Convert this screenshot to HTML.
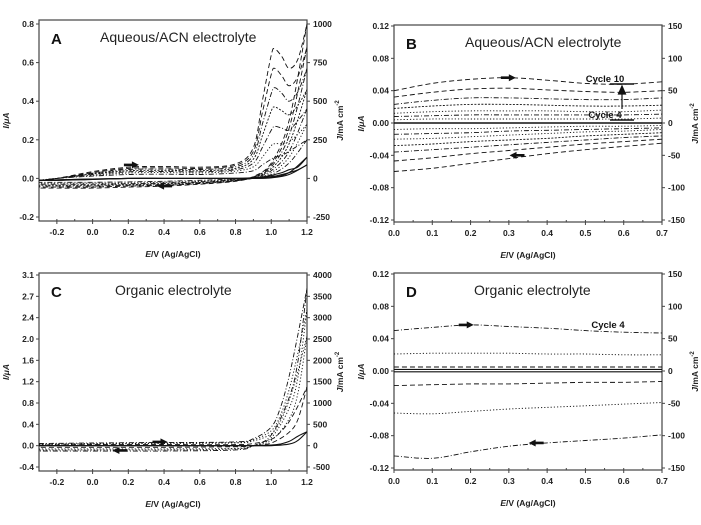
<!DOCTYPE html>
<html><head><meta charset="utf-8">
<style>
body{margin:0;background:#fff;}
svg{display:block;font-family:"Liberation Sans",Arial,sans-serif;}
.tk{font-size:8.5px;font-weight:bold;fill:#222;}
.ttl{font-size:14px;fill:#222;}
.pl{font-size:15px;font-weight:bold;fill:#111;}
</style></head>
<body>
<svg id="fig" width="701" height="525" viewBox="0 0 701 525"></svg>
<script>
// ---------- Panel A data ----------
const xA_f = [-0.3,-0.2,0,0.2,0.4,0.6,0.8,0.9,0.95,1.0,1.02,1.06,1.1,1.15,1.2];
const A_fwd = [
 [-0.01,0.0,0.035,0.058,0.062,0.058,0.075,0.16,0.40,0.64,0.67,0.63,0.57,0.62,0.80],
 [-0.01,0.0,0.03,0.052,0.055,0.052,0.068,0.14,0.34,0.54,0.57,0.53,0.48,0.53,0.68],
 [-0.01,0.0,0.027,0.046,0.048,0.046,0.060,0.12,0.28,0.44,0.47,0.44,0.40,0.45,0.57],
 [-0.01,0.0,0.024,0.04,0.042,0.04,0.052,0.10,0.22,0.35,0.37,0.35,0.33,0.38,0.46],
 [-0.01,0.0,0.02,0.034,0.036,0.034,0.045,0.08,0.16,0.25,0.27,0.26,0.25,0.30,0.36],
 [-0.01,0.0,0.016,0.028,0.03,0.028,0.038,0.06,0.11,0.17,0.18,0.18,0.19,0.23,0.28],
 [-0.01,0.0,0.012,0.02,0.022,0.02,0.028,0.04,0.07,0.10,0.11,0.12,0.14,0.17,0.20]
];
const A_solid = [
 [-0.01,-0.01,-0.005,0,0,0,0,0.004,0.008,0.015,0.02,0.03,0.045,0.06,0.11],
 [-0.01,-0.01,-0.005,0,0,0,0,0.002,0.005,0.01,0.012,0.02,0.03,0.045,0.07]
];
const xA_r = [1.2,1.1,1.0,0.9,0.8,0.6,0.4,0.2,0,-0.2,-0.3];
const A_rev = [
 [0.80,0.30,0.08,0.01,-0.015,-0.03,-0.04,-0.045,-0.05,-0.05,-0.05],
 [0.68,0.26,0.07,0.008,-0.013,-0.027,-0.036,-0.04,-0.045,-0.045,-0.045],
 [0.57,0.22,0.06,0.006,-0.011,-0.024,-0.032,-0.036,-0.04,-0.04,-0.04],
 [0.46,0.18,0.05,0.004,-0.009,-0.021,-0.028,-0.032,-0.035,-0.035,-0.035],
 [0.36,0.14,0.04,0.002,-0.007,-0.018,-0.024,-0.028,-0.03,-0.03,-0.03],
 [0.28,0.11,0.03,0.0,-0.005,-0.015,-0.02,-0.024,-0.025,-0.025,-0.025],
 [0.20,0.08,0.02,0.0,-0.003,-0.01,-0.015,-0.018,-0.02,-0.02,-0.02]
];
const A_solidRev = [
 [0.11,0.03,0.005,0,0,0,0,0,-0.003,-0.008,-0.01],
 [0.07,0.02,0.003,0,0,0,0,0,-0.003,-0.008,-0.01]
];
const A_xticks = [-0.2,0.0,0.2,0.4,0.6,0.8,1.0,1.2];
const A_yticks = [-0.2,0.0,0.2,0.4,0.6,0.8];
const A_rticks = [-250,0,250,500,750,1000];

// ---------- Panel B data ----------
const xB = [0,0.1,0.2,0.3,0.4,0.5,0.6,0.7];
const B_fwd = [
 [0.040,0.049,0.054,0.056,0.053,0.049,0.048,0.051],
 [0.032,0.038,0.042,0.043,0.041,0.039,0.038,0.040],
 [0.023,0.028,0.031,0.031,0.030,0.029,0.029,0.031],
 [0.018,0.021,0.023,0.023,0.022,0.021,0.021,0.022],
 [0.012,0.014,0.015,0.015,0.015,0.014,0.014,0.016],
 [0.008,0.009,0.010,0.010,0.010,0.010,0.010,0.011],
 [0.004,0.005,0.005,0.005,0.005,0.005,0.005,0.006]
];
const B_rev = [
 [-0.060,-0.056,-0.050,-0.044,-0.038,-0.033,-0.029,-0.025],
 [-0.047,-0.043,-0.038,-0.034,-0.030,-0.026,-0.023,-0.020],
 [-0.036,-0.033,-0.030,-0.027,-0.024,-0.021,-0.018,-0.016],
 [-0.028,-0.026,-0.023,-0.021,-0.019,-0.016,-0.014,-0.012],
 [-0.020,-0.019,-0.017,-0.015,-0.013,-0.011,-0.010,-0.008],
 [-0.014,-0.013,-0.012,-0.010,-0.009,-0.008,-0.007,-0.006],
 [-0.008,-0.007,-0.007,-0.006,-0.005,-0.004,-0.004,-0.003]
];
const B_xticks = [0.0,0.1,0.2,0.3,0.4,0.5,0.6,0.7];
const B_yticks = [-0.12,-0.08,-0.04,0.00,0.04,0.08,0.12];
const B_rticks = [-150,-100,-50,0,50,100,150];

// ---------- Panel C data ----------
const xC_f = [-0.3,0,0.4,0.8,0.9,1.0,1.05,1.1,1.15,1.2];
const C_fwd = [
 [0.04,0.05,0.06,0.07,0.13,0.35,0.70,1.30,2.10,2.95],
 [0.03,0.04,0.05,0.06,0.11,0.28,0.56,1.05,1.75,2.55],
 [0.02,0.03,0.04,0.05,0.09,0.22,0.45,0.85,1.40,2.05],
 [0.01,0.02,0.02,0.02,0.04,0.12,0.25,0.45,0.75,1.10],
 [0,0,0,0,0,0.01,0.03,0.08,0.18,0.26]
];
const xC_r = [1.2,1.15,1.1,1.0,0.9,0.8,0.4,0,-0.3];
const C_rev = [
 [2.95,1.60,0.90,0.20,0.00,-0.08,-0.10,-0.10,-0.10],
 [2.55,1.30,0.70,0.15,0.00,-0.06,-0.08,-0.08,-0.08],
 [2.05,1.00,0.50,0.10,0.00,-0.05,-0.06,-0.06,-0.06],
 [1.10,0.50,0.25,0.05,0.00,-0.02,-0.03,-0.03,-0.03],
 [0.26,0.10,0.03,0.00,0.00,0.00,0.00,0.00,0.00]
];
const C_xticks = [-0.2,0.0,0.2,0.4,0.6,0.8,1.0,1.2];
const C_yticks = ["-0.4","0.0","0.4","0.8","1.2","1.6","2.0","2.4","2.7","3.1"];
const C_rticks = [-500,0,500,1000,1500,2000,2500,3000,3500,4000];

// ---------- Panel D data ----------
const xD = [0,0.1,0.2,0.3,0.4,0.5,0.6,0.7];
const D_series = [
 [0.050,0.054,0.057,0.055,0.053,0.050,0.048,0.047],
 [0.021,0.022,0.022,0.022,0.021,0.021,0.020,0.020],
 [0.005,0.005,0.005,0.005,0.005,0.005,0.005,0.005],
 [0.002,0.002,0.002,0.002,0.002,0.002,0.002,0.002],
 [-0.001,-0.001,-0.001,-0.001,-0.001,-0.001,-0.001,-0.001],
 [-0.018,-0.017,-0.016,-0.016,-0.015,-0.014,-0.014,-0.013],
 [-0.052,-0.053,-0.050,-0.047,-0.045,-0.043,-0.041,-0.039],
 [-0.105,-0.108,-0.100,-0.093,-0.089,-0.086,-0.083,-0.079]
];
const D_styles = ["dashdot","dot","dash","solid","solid","dash","dot","dashdot"];
const D_xticks = B_xticks, D_yticks = B_yticks, D_rticks = B_rticks;

const NS="http://www.w3.org/2000/svg";
const svg=document.getElementById('fig');
function mk(tag,attrs,parent){const e=document.createElementNS(NS,tag);for(const k in attrs)e.setAttribute(k,attrs[k]);(parent||svg).appendChild(e);return e;}
const dashes={dash:"5,3",dot:"1.2,2",dashdot:"5,2,1,2",solid:"none",fine:"2,1.5"};

function smoothPath(pts){
  let d="M"+pts[0][0].toFixed(1)+","+pts[0][1].toFixed(1);
  for(let i=0;i<pts.length-1;i++){
    const p0=pts[i-1]||pts[i],p1=pts[i],p2=pts[i+1],p3=pts[i+2]||p2;
    const c1=[p1[0]+(p2[0]-p0[0])/6,p1[1]+(p2[1]-p0[1])/6];
    const c2=[p2[0]-(p3[0]-p1[0])/6,p2[1]-(p3[1]-p1[1])/6];
    d+="C"+c1[0].toFixed(1)+","+c1[1].toFixed(1)+" "+c2[0].toFixed(1)+","+c2[1].toFixed(1)+" "+p2[0].toFixed(1)+","+p2[1].toFixed(1);
  }
  return d;
}

function panel(cfg){
  const g=mk('g',{});
  
  
  const {x0,x1,y0,y1}=cfg;
  const yb=cfg.ybotPix, yt=cfg.ytopPix;
  const sx=v=>x0+(v-cfg.xmin)/(cfg.xmax-cfg.xmin)*(x1-x0);
  const sy=v=>yb-(v-cfg.ymin)/(cfg.ymax-cfg.ymin)*(yb-yt);
  cfg.sx=sx;cfg.sy=sy;
  const fr=mk('rect',{x:x0,y:y0,width:x1-x0,height:y1-y0,fill:'none',stroke:'#444','stroke-width':1.2},g);
  
  
  cfg.xticks.forEach(v=>{
    const X=sx(v);
    mk('line',{x1:X,x2:X,y1:y1,y2:y1+3,stroke:'#444'},g);
    const t=mk('text',{x:X,y:y1+14,'text-anchor':'middle',class:'tk'},g);
    
    
    t.textContent=cfg.xfmt(v);
  });
  const step=cfg.xticks[1]-cfg.xticks[0];
  for(let v=cfg.xmin+step/2;v<cfg.xmax;v+=step/2){const X=sx(v);mk('line',{x1:X,x2:X,y1:y1,y2:y1-2,stroke:'#444'},g);}
  const nL=cfg.yticks.length;
  cfg.yticks.forEach((v,i)=>{
    const Y=cfg.ylabelIdx? yb-i/(nL-1)*(yb-yt) : sy(v);
    mk('line',{x1:x0,x2:x0-3,y1:Y,y2:Y,stroke:'#444'},g);
    const t=mk('text',{x:x0-5,y:Y+3,'text-anchor':'end',class:'tk'},g);
    
    
    t.textContent=cfg.ylabelIdx? v : cfg.yfmt(v);
  });
  cfg.rticks.forEach((v,i)=>{
    const Y=yb-(v-cfg.rticks[0])/(cfg.rticks[cfg.rticks.length-1]-cfg.rticks[0])*(yb-yt);
    mk('line',{x1:x1,x2:x1+3,y1:Y,y2:Y,stroke:'#444'},g);
    const t=mk('text',{x:x1+6,y:Y+3,'text-anchor':'start',class:'tk'},g);
    
    
    t.textContent=v;
  });
  const yl=mk('text',{x:0,y:0,transform:`translate(${x0-30},${(y0+y1)/2}) rotate(-90)`,'text-anchor':'middle',class:'tk','font-style':'italic'},g);
  
  
  yl.textContent='I/μA';
  const yr=mk('text',{x:0,y:0,transform:`translate(${x1+36},${(y0+y1)/2}) rotate(-90)`,'text-anchor':'middle',class:'tk'},g);
  
  
  yr.innerHTML='<tspan font-style="italic">J</tspan>/mA cm<tspan dy="-4" font-size="6">-2</tspan>';
  const xl=mk('text',{x:(x0+x1)/2,y:y1+36,'text-anchor':'middle',class:'tk'},g);
  
  
  xl.innerHTML='<tspan font-style="italic">E</tspan>/V (Ag/AgCl)';
  const pl=mk('text',{x:x0+12,y:y0+24,class:'pl'},g);
  
  
  pl.textContent=cfg.id;
  const tt=mk('text',{x:cfg.titleX,y:y0+22,class:'ttl'},g);
  
  
  tt.textContent=cfg.title;
  const cp=mk('clipPath',{id:'clip'+cfg.id},g);
  mk('rect',{x:x0,y:y0,width:x1-x0,height:y1-y0},cp);
  cfg.g=mk('g',{'clip-path':`url(#clip${cfg.id})`},g);
  return cfg;
}
function curve(cfg,xs,ys,style,name,w){
  const pts=xs.map((x,i)=>[cfg.sx(x),cfg.sy(ys[i])]);
  const p=mk('path',{d:smoothPath(pts),fill:'none',stroke:'#111','stroke-width':w||0.9,'stroke-dasharray':dashes[style]},cfg.g);
  
  
}
function arrow(cfg,x,y,dir,name){
  const X=cfg.sx(x),Y=cfg.sy(y);
  const d=dir>0?`M${X-8},${Y-1.3}L${X},${Y-1.3}L${X},${Y-3.5}L${X+7},${Y}L${X},${Y+3.5}L${X},${Y+1.3}L${X-8},${Y+1.3}Z`
               :`M${X+8},${Y-1.3}L${X},${Y-1.3}L${X},${Y-3.5}L${X-7},${Y}L${X},${Y+3.5}L${X},${Y+1.3}L${X+8},${Y+1.3}Z`;
  const a=mk('path',{d:d,fill:'#111'},cfg.g);
  
  
}
const f1=v=>v.toFixed(1), f2=v=>v.toFixed(2);
const stylesA=["dash","dash","dashdot","fine","dashdot","dot","dashdot"];

// Panel A
const pA=panel({id:'A',x0:39,x1:307,y0:20,y1:221,ytopPix:24,ybotPix:217,xmin:-0.3,xmax:1.2,ymin:-0.2,ymax:0.8,
  xticks:A_xticks,yticks:A_yticks,rticks:A_rticks,xfmt:f1,yfmt:f1,title:'Aqueous/ACN electrolyte',titleX:100});
A_fwd.forEach((s,i)=>curve(pA,xA_f,s,stylesA[i],'a-forward-cycle-'+(i+1)));
A_rev.forEach((s,i)=>curve(pA,xA_r,s,stylesA[i],'a-reverse-cycle-'+(i+1)));
A_solid.forEach((s,i)=>curve(pA,xA_f,s,'solid','a-forward-solid-'+(i+1),1.1));
A_solidRev.forEach((s,i)=>curve(pA,xA_r,s,'solid','a-reverse-solid-'+(i+1),1.1));
arrow(pA,0.22,0.07,1,'a-forward-arrow');
arrow(pA,0.4,-0.04,-1,'a-reverse-arrow');

// Panel B
const pB=panel({id:'B',x0:394,x1:662,y0:25,y1:222,ytopPix:26,ybotPix:220,xmin:0,xmax:0.7,ymin:-0.12,ymax:0.12,
  xticks:B_xticks,yticks:B_yticks,rticks:B_rticks,xfmt:f1,yfmt:f2,title:'Aqueous/ACN electrolyte',titleX:465});
const stylesB=["dash","dash","dashdot","fine","dot","dashdot","dot"];
B_fwd.forEach((s,i)=>curve(pB,xB,s,stylesB[i],'b-forward-cycle-'+(10-i)));
B_rev.forEach((s,i)=>curve(pB,xB,s,stylesB[i],'b-reverse-cycle-'+(10-i)));
curve(pB,xB,[0,0,0,0,0,0,0,0],'solid','b-baseline',1.6);
arrow(pB,0.3,0.056,1,'b-forward-arrow');
arrow(pB,0.32,-0.040,-1,'b-reverse-arrow');
{const t=mk('text',{x:605,y:82,'text-anchor':'middle','font-size':'9.5','font-weight':'bold',fill:'#111'});
 t.textContent='Cycle 10';
 mk('line',{x1:610,x2:634,y1:84,y2:84,stroke:'#111','stroke-width':1.5});
 const t2=mk('text',{x:605,y:118,'text-anchor':'middle','font-size':'9.5','font-weight':'bold',fill:'#111'});
 t2.textContent='Cycle 4';
 mk('line',{x1:610,x2:634,y1:120,y2:120,stroke:'#111','stroke-width':1.5});
 const ar=mk('path',{d:'M622,109L622,93M618.5,94L622,86L625.5,94Z',stroke:'#111','stroke-width':1.2,fill:'#111'});
 }

// Panel C (data in µA; plotted on J scale: J ≈ 1250·I)
const pC=panel({id:'C',x0:39,x1:307,y0:273,y1:471,ytopPix:275,ybotPix:467,xmin:-0.3,xmax:1.2,ymin:-0.4,ymax:3.2,
  xticks:C_xticks,yticks:C_yticks,rticks:C_rticks,xfmt:f1,yfmt:f1,ylabelIdx:true,title:'Organic electrolyte',titleX:115});
const stylesC=["dashdot","dot","dot","dash","solid"];
C_fwd.forEach((s,i)=>curve(pC,xC_f,s,stylesC[i],'c-forward-'+(i+1),stylesC[i]=='solid'?1.1:0.9));
C_rev.forEach((s,i)=>curve(pC,xC_r,s,stylesC[i],'c-reverse-'+(i+1),stylesC[i]=='solid'?1.1:0.9));
arrow(pC,0.38,0.07,1,'c-forward-arrow');
arrow(pC,0.15,-0.09,-1,'c-reverse-arrow');

// Panel D
const pD=panel({id:'D',x0:394,x1:662,y0:273,y1:470,ytopPix:274,ybotPix:468,xmin:0,xmax:0.7,ymin:-0.12,ymax:0.12,
  xticks:D_xticks,yticks:D_yticks,rticks:D_rticks,xfmt:f1,yfmt:f2,title:'Organic electrolyte',titleX:474});
D_series.forEach((s,i)=>curve(pD,xD,s,D_styles[i],'d-curve-'+(i+1),D_styles[i]=='solid'?1.1:0.9));
arrow(pD,0.19,0.057,1,'d-forward-arrow');
arrow(pD,0.37,-0.089,-1,'d-reverse-arrow');
{const t=mk('text',{x:608,y:328,'text-anchor':'middle','font-size':'9.5','font-weight':'bold',fill:'#111'});
 t.textContent='Cycle 4';}
</script>
</body></html>
